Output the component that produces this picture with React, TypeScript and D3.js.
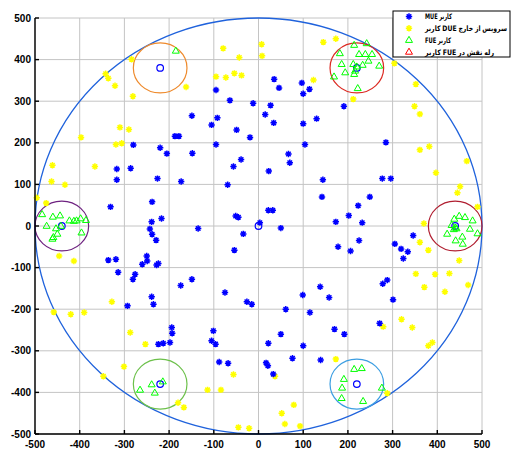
import React, { useLayoutEffect, useRef, useState } from "react";
import * as d3 from "d3";

// Macro-cell users (MUE)
const mueUsers: [number, number][] = [
  [-280, 195], [-220, 188], [-205, 174], [-187, 216], [-178, 216],
  [-95, 327], [-64, 302], [-12, 295], [27, 290], [35, 353], [46, 332], [97, 344], [100, 318], [114, 329], [191, 288],
  [-149, 265], [-92, 260], [-105, 243], [-49, 231], [-19, 213], [15, 268], [34, 248], [100, 246], [130, 258], [-95, 196], [104, 196],
  [-148, 175], [-39, 160], [-56, 143], [67, 173], [70, 152], [23, 132], [-173, 107], [-69, 99], [144, 111], [142, 70],
  [22, 38], [32, 38], [-51, 24], [-45, 21], [3, 8], [-135, -6], [50, -5], [-34, -19], [-54, -58], [-149, -128], [-174, -143],
  [-75, -160], [99, -166], [138, -146], [158, -172],
  [-317, 137], [-286, 139], [-317, 111], [-226, 114], [-238, 58], [-331, 46], [-217, 18], [-239, 10], [-243, -7], [-238, -20],
  [-229, -34], [-336, -82], [-319, -80], [-250, -72], [-249, -84], [-314, -111], [-260, -92], [-228, -94], [-224, -90],
  [-276, -116], [-281, -128], [-239, -170],
  [277, 114], [296, 114], [249, 70], [223, 49], [202, 25], [173, 10], [232, 8], [225, -35], [178, -50], [206, -60],
  [305, -43], [319, -55], [334, -62], [324, -78], [346, -23], [288, -130], [278, -139], [301, -177],
  [-293, -192], [-235, -188], [-194, -244], [-193, -258], [-224, -284], [-213, -282], [-198, -280],
  [-26, -182], [-15, -188], [61, -200], [115, -208], [170, -248], [192, -260], [271, -234], [-101, -252], [-105, -276], [-96, -284],
  [50, -260], [22, -282], [100, -288], [-88, -327], [-68, -330], [17, -329], [21, -336], [76, -318], [139, -322], [33, -356],
  [285, 201],
];

// Out-of-service device users (DUE)
const dueUsers: [number, number][] = [
  [-342, 366], [-336, 355], [-321, 337], [-284, 401], [-281, 312], [-397, 213], [-310, 237], [-290, 232], [-319, 196], [-306, 199],
  [-79, 427], [-43, 405], [7, 437], [8, 409], [-95, 359], [-73, 357], [-54, 367], [-38, 362], [-162, 334], [145, 442], [173, 450],
  [123, 351], [212, 305],
  [-461, 146], [-463, 107], [-433, 99], [-366, 143], [-496, 68], [-475, 55], [-446, -72], [-413, -84],
  [361, 183], [466, 156], [397, 128], [451, 95], [445, 80], [490, 46], [370, 6], [361, -39], [380, -58], [449, -83],
  [352, -115], [395, -116], [427, -114], [371, -147], [417, -158], [469, -142],
  [-458, -207], [-420, -212], [-390, -208], [-328, -182], [-287, -256], [-253, -284], [-301, -338], [-347, -361],
  [-180, -425], [-167, -436],
  [173, -320], [-56, -357], [37, -361], [-114, -394], [-84, -394], [79, -430], [52, -450], [59, -476], [93, -481],
  [-45, -484], [-21, -486],
  [320, -224], [344, -244], [279, -242], [380, -288], [389, -280], [288, -402],
  [304, 391], [352, 341], [349, 288], [361, 269], [382, 191],
];

// Femto-cell users (FUE)
const fueUsers: [number, number][] = [
  [-185, 421],
  [182, 415], [214, 435], [242, 439], [225, 413], [239, 413], [254, 413], [246, 397], [233, 387], [186, 389], [212, 389],
  [220, 383], [216, 373], [194, 369], [214, 365], [169, 359], [222, 331], [270, 385],
  [-484, 28], [-460, 22], [-444, 25], [-474, 0], [-442, 0], [-453, -6], [-423, 13], [-413, 12], [-407, 13], [-398, 18],
  [-386, 14], [-450, -19], [-459, -27], [-461, -31], [-396, -16],
  [438, 17], [449, 24], [462, 21], [479, 13], [432, 2], [440, -4], [443, -6], [437, -8], [473, -7], [490, -18],
  [422, -19], [456, -26], [441, -35], [457, -43],
  [-265, -394], [-239, -381], [-232, -401], [-214, -374],
  [214, -344], [231, -342], [191, -368], [187, -389], [186, -414], [234, -421], [276, -389],
];

// FUE users acting as relays
const relayUsers: [number, number][] = [];

// Base stations: macro at the origin, femto cells around it
const macroStation: [number, number] = [0, 0];
const macroRadius = 500;
const femtoCenters: [number, number][] = [
  [-220, 380], [220, 380], [-440, 0], [440, 0], [-220, -380], [220, -380],
];
const femtoRadius = 60;
const femtoColors = ["#EE8A2C", "#DC2A22", "#6E2280", "#B01E30", "#6CC04A", "#3C9EE2"];

const tickValues = d3.range(-500, 501, 100);

// Legend entries, word by word in the order they are laid out (left to right)
const legendWords: string[][] = [
  ["MUE", "کاربر"],
  ["کاربر", "DUE", "خارج", "از", "سرویس"],
  ["FUE", "کاربر"],
  ["کاربر", "FUE", "در", "نقش", "رله"],
];
const legendTextWidths = [27, 82, 26, 69];

const W = 511;
const H = 450;
const x = d3.scaleLinear().domain([-500, 500]).range([35, 482]);
const y = d3.scaleLinear().domain([-500, 500]).range([434, 18]);

const starPath = (r: number) => {
  const d = r * Math.SQRT1_2;
  return `M${-r},0L${r},0M0,${-r}L0,${r}M${-d},${-d}L${d},${d}M${-d},${d}L${d},${-d}`;
};
const triPath = (s: number) => {
  const h = s * 0.866;
  return `M0,${-h * 0.62}L${s / 2},${h * 0.38}L${-s / 2},${h * 0.38}Z`;
};

const Star = ({ cx, cy, color }: { cx: number; cy: number; color: string }) => (
  <path d={starPath(3.2)} transform={`translate(${cx},${cy})`} stroke={color} strokeWidth={1.5} fill="none" />
);
const Tri = ({ cx, cy, color }: { cx: number; cy: number; color: string }) => (
  <path d={triPath(7)} transform={`translate(${cx},${cy})`} stroke={color} strokeWidth={1} fill="none" />
);

// One legend line: each word is its own text element, placed one after another
function WordLine({ words, x0, cy, width }: { words: string[]; x0: number; cy: number; width: number }) {
  const refs = useRef<(SVGTextElement | null)[]>([]);
  const [layout, setLayout] = useState<{ xs: number[]; k: number } | null>(null);
  const gap = 2.2;

  useLayoutEffect(() => {
    const widths = refs.current.map((el) => (el ? el.getComputedTextLength() : 0));
    const xs: number[] = [];
    let acc = 0;
    widths.forEach((w) => {
      xs.push(acc);
      acc += w + gap;
    });
    const total = acc - gap;
    setLayout({ xs, k: total > 0 ? width / total : 1 });
  }, [words, width]);

  return (
    <g transform={`translate(${x0},${cy}) scale(${layout ? layout.k : 1},1)`}>
      {words.map((w, i) => (
        <text
          key={i}
          ref={(el) => (refs.current[i] = el)}
          x={layout ? layout.xs[i] : i * 20}
          dy="0.35em"
          fontFamily="'DejaVu Sans', sans-serif"
          fontSize={7.5}
          fontWeight="bold"
          fill="#000"
          visibility={layout ? "visible" : "hidden"}
        >
          {w}
        </text>
      ))}
    </g>
  );
}

export default function App() {
  const rx = (r: number) => x(r) - x(0);
  const ry = (r: number) => y(0) - y(r);
  const font = "'Liberation Sans', Arial, sans-serif";
  const legendX = 393;
  const legendY = 11;
  const legendW = 117;
  const legendH = 46;
  const legendColors = ["#0000FF", "#FFFF00", "#00FF00", "#FF0000"];

  return (
    <svg width={W} height={H} style={{ position: "absolute", left: 0, top: 0, background: "#fff" }}>
      {/* grid */}
      <g stroke="#c4c4c4" strokeWidth={1}>
        {tickValues.map((t) => (
          <line key={"gx" + t} x1={x(t)} x2={x(t)} y1={y(-500)} y2={y(500)} />
        ))}
        {tickValues.map((t) => (
          <line key={"gy" + t} x1={x(-500)} x2={x(500)} y1={y(t)} y2={y(t)} />
        ))}
      </g>

      {/* macro cell boundary */}
      <ellipse cx={x(macroStation[0])} cy={y(macroStation[1])} rx={rx(macroRadius)} ry={ry(macroRadius)}
        fill="none" stroke="#1F62DC" strokeWidth={1.3} />

      {/* femto cell boundaries */}
      {femtoCenters.map((c, i) => (
        <ellipse key={"fc" + i} cx={x(c[0])} cy={y(c[1])} rx={rx(femtoRadius)} ry={ry(femtoRadius)}
          fill="none" stroke={femtoColors[i]} strokeWidth={1.2} />
      ))}

      {/* base stations */}
      {[macroStation, ...femtoCenters].map((c, i) => (
        <ellipse key={"bs" + i} cx={x(c[0])} cy={y(c[1])} rx={3.3} ry={3.3} fill="none" stroke="#0000FF" strokeWidth={1.2} />
      ))}

      {dueUsers.map((p, i) => <Star key={"d" + i} cx={x(p[0])} cy={y(p[1])} color="#FFFF00" />)}
      {mueUsers.map((p, i) => <Star key={"m" + i} cx={x(p[0])} cy={y(p[1])} color="#0000FF" />)}
      {fueUsers.map((p, i) => <Tri key={"f" + i} cx={x(p[0])} cy={y(p[1])} color="#00FF00" />)}
      {relayUsers.map((p, i) => <Tri key={"r" + i} cx={x(p[0])} cy={y(p[1])} color="#FF0000" />)}

      {/* axes */}
      <g stroke="#000" strokeWidth={1.4}>
        <line x1={x(-500)} x2={x(-500)} y1={y(-500)} y2={y(500)} />
        <line x1={x(-500)} x2={x(500)} y1={y(-500)} y2={y(-500)} />
        {tickValues.map((t) => (
          <line key={"ty" + t} x1={x(-500)} x2={x(-500) + 4} y1={y(t)} y2={y(t)} />
        ))}
        {tickValues.map((t) => (
          <line key={"tx" + t} x1={x(t)} x2={x(t)} y1={y(-500)} y2={y(-500) - 4} />
        ))}
      </g>
      <g fontFamily={font} fontSize={10} fontWeight="bold" fill="#000">
        {tickValues.map((t) => (
          <text key={"ly" + t} x={x(-500) - 4} y={y(t)} dy="0.35em" textAnchor="end">{t}</text>
        ))}
        {tickValues.map((t) => (
          <text key={"lx" + t} x={x(t)} y={y(-500) + 14} textAnchor="middle">{t}</text>
        ))}
      </g>

      {/* legend */}
      <g>
        <rect x={legendX} y={legendY} width={legendW} height={legendH} fill="#fff" stroke="#000" strokeWidth={1} />
        {legendWords.map((words, i) => {
          const cy = legendY + 5.5 + i * 11.8;
          return (
            <g key={"lg" + i}>
              {i < 2 ? (
                <Star cx={legendX + 16} cy={cy} color={legendColors[i]} />
              ) : (
                <Tri cx={legendX + 16} cy={cy} color={legendColors[i]} />
              )}
              <WordLine words={words} x0={legendX + 32} cy={cy} width={legendTextWidths[i]} />
            </g>
          );
        })}
      </g>
    </svg>
  );
}
